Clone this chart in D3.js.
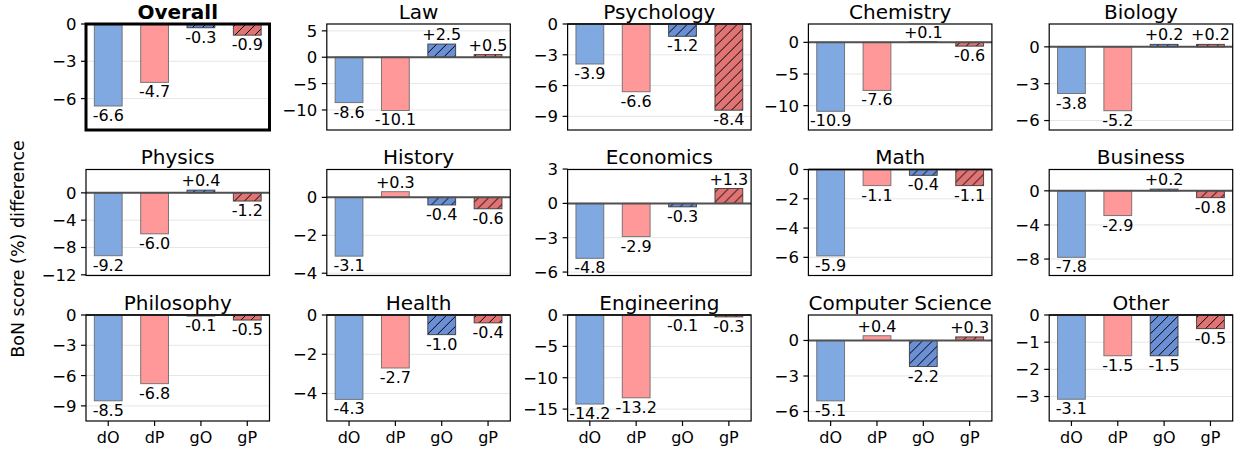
<!DOCTYPE html>
<html>
<head>
<meta charset="utf-8">
<script src="https://cdn.jsdelivr.net/npm/d3@7"></script>
<style>
body { margin: 0; background: #fff; }
text { font-family: "DejaVu Sans", sans-serif; fill: #000; }
</style>
</head>
<body>
<svg id="chart" width="1235" height="450"></svg>
<script>
// ---- data ----
const subjects = ["Overall", "Law", "Psychology", "Chemistry", "Biology",
                  "Physics", "History", "Economics", "Math", "Business",
                  "Philosophy", "Health", "Engineering", "Computer Science", "Other"];
const methods = ["dO", "dP", "gO", "gP"];
const diffs = [
    [-6.6, -4.7, -0.3, -0.9],
    [-8.6, -10.1, 2.5, 0.5],
    [-3.9, -6.6, -1.2, -8.4],
    [-10.9, -7.6, 0.1, -0.6],
    [-3.8, -5.2, 0.2, 0.2],
    [-9.2, -6.0, 0.4, -1.2],
    [-3.1, 0.3, -0.4, -0.6],
    [-4.8, -2.9, -0.3, 1.3],
    [-5.9, -1.1, -0.4, -1.1],
    [-7.8, -2.9, 0.2, -0.8],
    [-8.5, -6.8, -0.1, -0.5],
    [-4.3, -2.7, -1.0, -0.4],
    [-14.2, -13.2, -0.1, -0.3],
    [-5.1, 0.4, -2.2, 0.3],
    [-3.1, -1.5, -1.5, -0.5]
];
const yDomains = [
    [-8.53, 0], [-13.8, 6.3], [-10.33, 0], [-13.85, 2.9], [-6.77, 1.86],
    [-12.1, 3.42], [-4.12, 1.47], [-6.3, 2.96], [-7.24, 0], [-9.93, 2.5],
    [-10.5, 0], [-5.4, 0], [-16.9, 0], [-6.8, 2.15], [-3.9, 0]
];
const yTicks = [
    [0, -3, -6], [5, 0, -5, -10], [0, -3, -6, -9], [0, -5, -10], [0, -3, -6],
    [0, -4, -8, -12], [0, -2, -4], [3, 0, -3, -6], [0, -2, -4, -6], [0, -4, -8],
    [0, -3, -6, -9], [0, -2, -4], [0, -5, -10, -15], [0, -3, -6], [0, -1, -2, -3]
];

const fills = ["#80a8e1", "#ff9999", "#6a8fd4", "#e07373"];
const hatched = [false, false, true, true];

// ---- layout ----
const svg = d3.select("#chart");
const nCols = 5;
const left0 = 86, colStep = 240.8, panelW = 183.5;
const top0 = 24, rowStep = 145.5, panelH = 106;

const defs = svg.append("defs");
fills.forEach((c, i) => {
    if (!hatched[i]) return;
    const p = defs.append("pattern")
        .attr("id", "hatch" + i)
        .attr("patternUnits", "userSpaceOnUse")
        .attr("width", 10).attr("height", 10);
    p.append("rect").attr("width", 10).attr("height", 10).attr("fill", c);
    p.append("path")
        .attr("d", "M0,10L10,0M-2,2L2,-2M8,12L12,8")
        .attr("stroke", "#000").attr("stroke-width", 1);
});

const fmtTick = d3.format("d");
const fmtVal = v => (v > 0 ? "+" : "") + v.toFixed(1);

subjects.forEach((name, k) => {
    const col = k % nCols, row = Math.floor(k / nCols);
    const x0 = left0 + col * colStep, y0 = top0 + row * rowStep;
    const g = svg.append("g").attr("transform", `translate(${x0},${y0})`);

    const x = d3.scaleLinear().domain([-0.48, 3.48]).range([0, panelW]);
    const y = d3.scaleLinear().domain(yDomains[k]).range([panelH, 0]);
    const bw = x(0.6) - x(0);

    // grid
    g.selectAll(".grid")
        .data(yTicks[k])
        .join("line")
        .attr("x1", 0).attr("x2", panelW)
        .attr("y1", d => y(d)).attr("y2", d => y(d))
        .attr("stroke", "#e6e6e6").attr("stroke-width", 1);

    // bars
    const vals = diffs[k];
    g.selectAll(".bar")
        .data(vals)
        .join("rect")
        .attr("x", (d, i) => x(i) - bw / 2)
        .attr("width", bw)
        .attr("y", d => y(Math.max(0, d)))
        .attr("height", d => Math.abs(y(d) - y(0)))
        .attr("fill", (d, i) => hatched[i] ? `url(#hatch${i})` : fills[i])
        .attr("stroke", (d, i) => hatched[i] ? "#333" : "#666")
        .attr("stroke-opacity", 0.85)
        .attr("stroke-width", 1);

    // zero line
    g.append("line")
        .attr("x1", 0).attr("x2", panelW)
        .attr("y1", y(0)).attr("y2", y(0))
        .attr("stroke", "#505050").attr("stroke-width", 2);

    // value labels
    g.selectAll(".val")
        .data(vals)
        .join("text")
        .attr("x", (d, i) => x(i))
        .attr("y", d => d >= 0 ? y(d) - 4 : y(d) + 15)
        .attr("text-anchor", "middle")
        .attr("font-size", 16)
        .text(fmtVal);

    // frame
    g.append("rect")
        .attr("width", panelW).attr("height", panelH)
        .attr("fill", "none")
        .attr("stroke", "#000")
        .attr("stroke-width", k === 0 ? 3 : 1.2);

    // y axis ticks
    const yt = g.selectAll(".ytick").data(yTicks[k]).join("g")
        .attr("transform", d => `translate(0,${y(d)})`);
    yt.append("line").attr("x1", -5).attr("x2", 0).attr("stroke", "#000").attr("stroke-width", 1.2);
    yt.append("text")
        .attr("x", -9.5).attr("dy", "0.36em")
        .attr("text-anchor", "end")
        .attr("font-size", 16.5)
        .text(d => fmtTick(d));

    // x axis on bottom row
    if (row === 2) {
        const xt = g.selectAll(".xtick").data(methods).join("g")
            .attr("transform", (d, i) => `translate(${x(i)},${panelH})`);
        xt.append("line").attr("y1", 0).attr("y2", 5).attr("stroke", "#000").attr("stroke-width", 1.2);
        xt.append("text")
            .attr("y", 22)
            .attr("text-anchor", "middle")
            .attr("font-size", 16)
            .text(d => d);
    }

    // title
    g.append("text")
        .attr("x", panelW / 2).attr("y", -5.5)
        .attr("text-anchor", "middle")
        .attr("font-size", 20)
        .attr("font-weight", k === 0 ? "bold" : "normal")
        .text(name);
});

svg.append("text")
    .attr("transform", "translate(24,249) rotate(-90)")
    .attr("text-anchor", "middle")
    .attr("font-size", 17.5)
    .text("BoN score (%) difference");
</script>
</body>
</html>
